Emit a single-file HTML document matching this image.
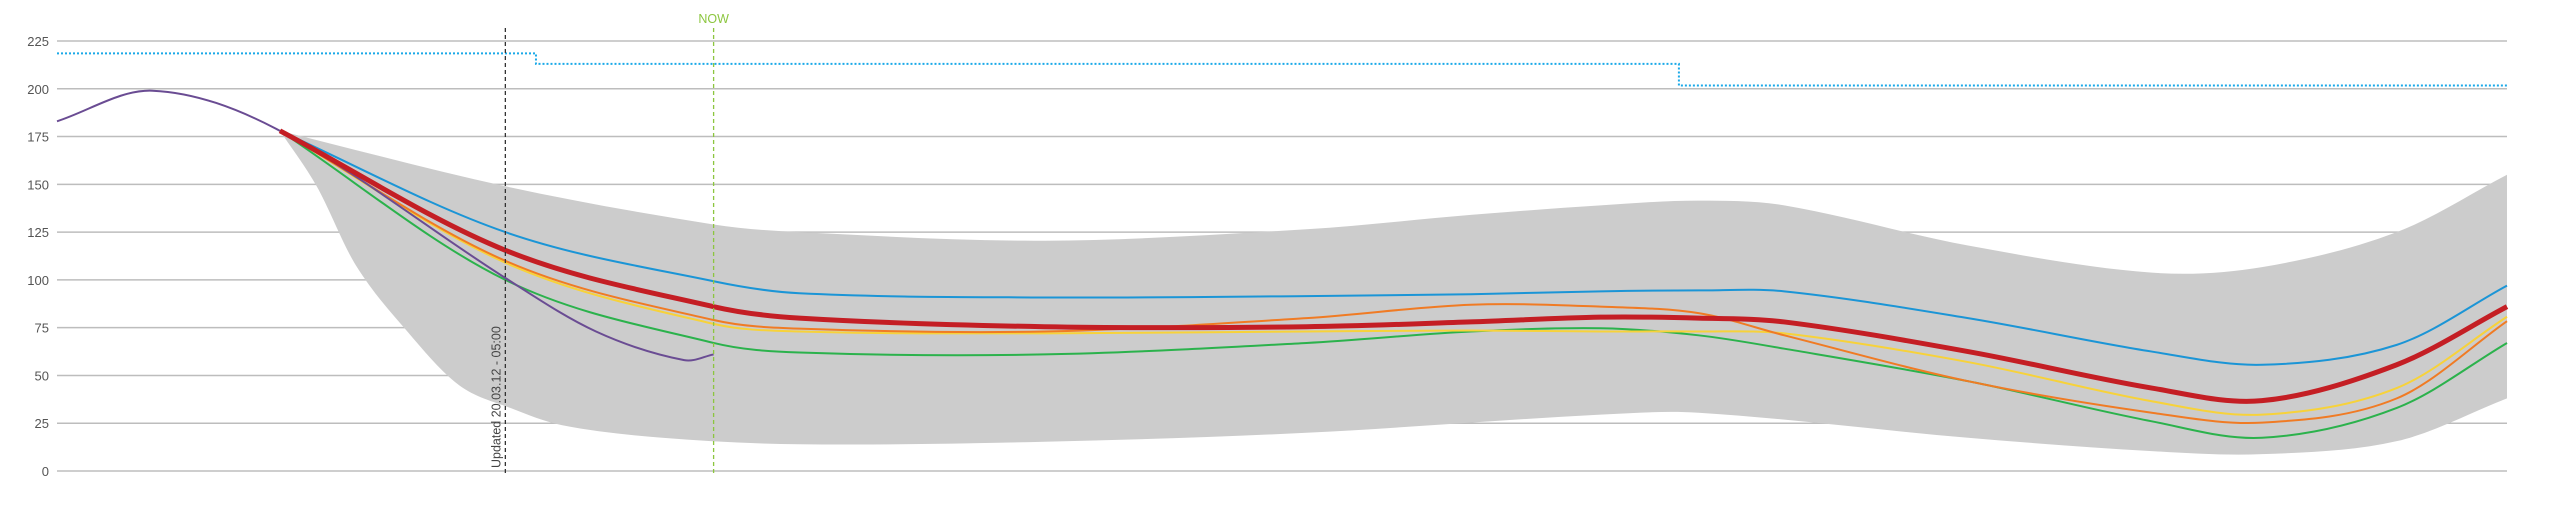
<!DOCTYPE html>
<html><head><meta charset="utf-8"><style>
html,body{margin:0;padding:0;background:#fff;}
svg{display:block;font-family:"Liberation Sans",sans-serif;}
</style></head><body>
<svg id="chart" width="2560" height="520" viewBox="0 0 2560 520" xmlns="http://www.w3.org/2000/svg">
<g id="grid"></g>
<g id="band"></g>
<g id="lines"></g>
<g id="marks"></g>
</svg>
<script>
const yTicks=[0,25,50,75,100,125,150,175,200,225];
const updatedT=18.3, nowT=26.8;
const limitT=[0,19.55,19.55,66.2,66.2,100];
const limitV=[218.5,218.5,213,213,201.7,201.7];
const histT=[0,3.9,9.1,18.3,22,25.6,26.8];
const histV=[183,199,178,101,73,58,61];
const fT=[9.1,18.3,26.8,30.3,40.3,51,57.7,63,67,70.5,78,85.5,90,95.5,100];
const redV=[178,115.5,86,80,75.5,75.5,78,80.5,80,78,62.5,43.4,36.8,55.6,86];
const blueV=[178,125,99.3,93,90.8,91.5,92.5,94,94.5,94,80,62.5,55.6,66,97];
const orangeV=[178,110,79,74.5,73,80,87,86,82.6,71,47,30.5,25.3,38,78.4];
const yellowV=[178,109,77,73,72,73,73.5,73,73,72,57,36.5,29.5,43.4,80.7];
const greenV=[178,100,67,62,61,67,73,74.7,71,64,47,26,17.4,33,67];
const upT=[9.1,18.3,26.8,30.3,40.3,51,57.7,63,67,70.5,78,85.5,90,95.5,100];
const upV=[178,149,129,125,120.5,126.5,134,139,141.5,139,118,103.8,106.7,125,155];
const loT=[9.1,10.6,12.2,14.3,16.4,18.5,20.6,24.7,30.3,40.3,51,63,67,78,85.5,90,95.5,100];
const loV=[178,149,107.6,73,45,33,24,17.4,14,15.3,20,29.5,30.5,17.4,10.4,8.8,15.6,38];

const X0=57,X1=2507,Y0=471,Y225=41;
const xs=t=>X0+t*(X1-X0)/100;
const ys=v=>Y0-v*(Y0-Y225)/225;
const NS="http://www.w3.org/2000/svg";
function mk(tag,attrs,parent){const e=document.createElementNS(NS,tag);for(const k in attrs)e.setAttribute(k,attrs[k]);parent.appendChild(e);return e;}
function pts(T,V){return T.map((t,i)=>[xs(t),ys(V[i])]);}
function curve(p,move){
 const n=p.length,dir=p[n-1][0]>=p[0][0]?1:-1;
 const m=p.map((q,i)=>{
  if(i===0)return (p[1][1]-p[0][1])/(p[1][0]-p[0][0]);
  if(i===n-1)return (p[n-1][1]-p[n-2][1])/(p[n-1][0]-p[n-2][0]);
  return (p[i+1][1]-p[i-1][1])/(p[i+1][0]-p[i-1][0]);});
 let d=(move?'M':'L')+p[0][0]+','+p[0][1];
 for(let i=0;i<n-1;i++){const dx=(p[i+1][0]-p[i][0])/3;
  d+=`C${p[i][0]+dx},${p[i][1]+m[i]*dx} ${p[i+1][0]-dx},${p[i+1][1]-m[i+1]*dx} ${p[i+1][0]},${p[i+1][1]}`;}
 return d;}
const grid=document.getElementById('grid');
yTicks.forEach(v=>{
 const l=mk('line',{x1:X0,x2:X1,y1:ys(v),y2:ys(v),stroke:'#bdbdbd','stroke-width':1.5},grid);
 
 
 const t=mk('text',{x:49,y:ys(v)+5,'text-anchor':'end','font-size':13,fill:'#555'},grid);
 t.textContent=v;
 
 
});
const band=document.getElementById('band');
const up=pts(upT,upV),lo=pts(loT,loV).reverse();
const bp=mk('path',{d:curve(up,true)+curve(lo,false)+'Z',fill:'#cccccc'},band);


const marks=document.getElementById('marks');
const lim=mk('path',{d:'M'+limitT.map((t,i)=>xs(t)+','+ys(limitV[i])).join('L'),fill:'none',stroke:'#1aa9e8','stroke-width':2,'stroke-dasharray':'2,2'},marks);


const lines=document.getElementById('lines');
[[greenV,'#2bb24c',2,'green-forecast'],[yellowV,'#f7d23a',2,'yellow-forecast'],[orangeV,'#f07b24',2,'orange-forecast'],[blueV,'#1b95d6',2,'blue-forecast']].forEach(s=>{
 const p=mk('path',{d:curve(pts(fT,s[0]),true),fill:'none',stroke:s[1],'stroke-width':s[2]},lines);
 
 
});
const hp=mk('path',{d:curve(pts(histT,histV),true),fill:'none',stroke:'#6a4c93','stroke-width':2},lines);


const rp=mk('path',{d:curve(pts(fT,redV),true),fill:'none',stroke:'#c41e24','stroke-width':5},lines);


const ul=mk('line',{x1:xs(updatedT),x2:xs(updatedT),y1:28,y2:Y0+2,stroke:'#333','stroke-width':1.3,'stroke-dasharray':'4,3'},marks);


const ut=mk('text',{x:0,y:0,transform:`translate(${xs(updatedT)-5},468) rotate(-90)`,'font-size':12.5,fill:'#444'},marks);
ut.textContent='Updated 20.03.12 - 05:00';


const nl=mk('line',{x1:xs(nowT),x2:xs(nowT),y1:28,y2:Y0+2,stroke:'#8cc63f','stroke-width':1.3,'stroke-dasharray':'4,3'},marks);


const nt=mk('text',{x:xs(nowT),y:23,'text-anchor':'middle','font-size':12.5,fill:'#8cc63f'},marks);
nt.textContent='NOW';


</script>
</body></html>
